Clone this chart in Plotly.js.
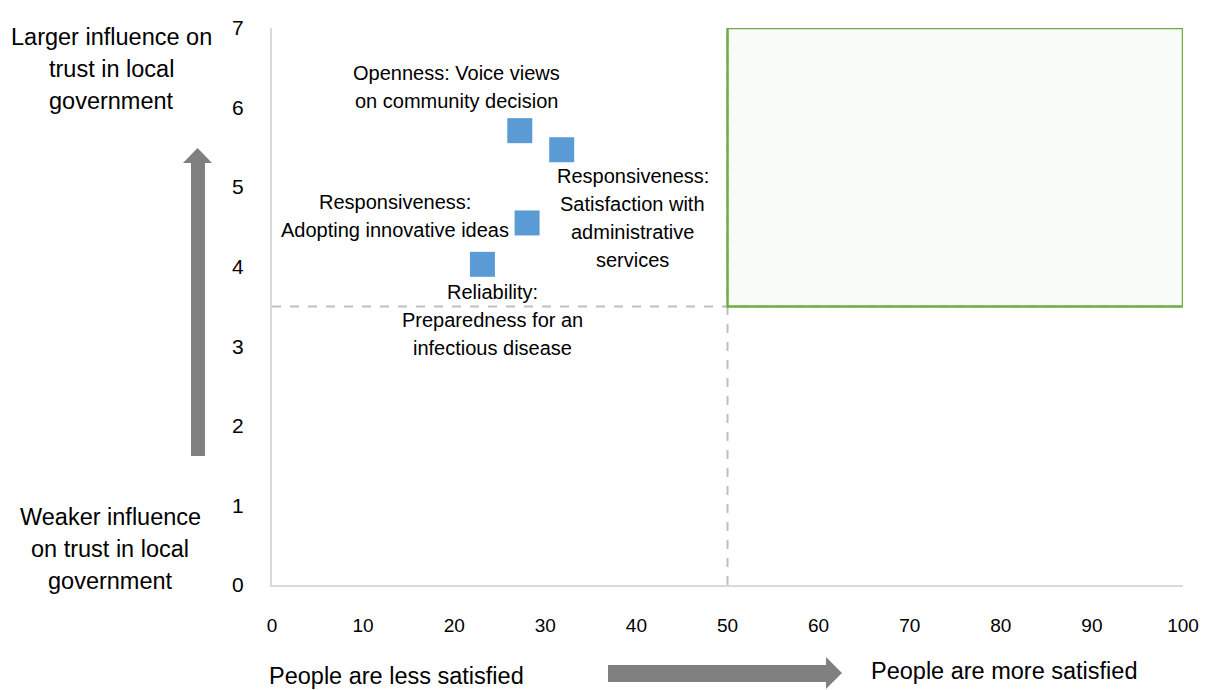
<!DOCTYPE html>
<html>
<head>
<meta charset="utf-8">
<script src="https://cdn.plot.ly/plotly-3.0.1.min.js"></script>
<style>
  html, body { margin: 0; padding: 0; background: #ffffff; }
  #chart { width: 1205px; height: 690px; }
</style>
</head>
<body>
<div id="chart"></div>
<script>
// Satisfaction (x, %) versus influence on trust in local government (y)
const satisfaction = [27.2, 31.8, 28.0, 23.1];
const influence = [5.71, 5.47, 4.55, 4.03];

// Driver labels: [lines, label centre x, label centre y]
const driverLabels = [
  [["Openness: Voice views", "on community decision"], 20.2, 6.26],
  [["Responsiveness:", "Satisfaction with", "administrative", "services"], 39.6, 4.61],
  [["Responsiveness:", "Adopting innovative ideas"], 13.5, 4.64],
  [["Reliability:", "Preparedness for an", "infectious disease"], 24.2, 3.33]
];

const xTicks = [0, 10, 20, 30, 40, 50, 60, 70, 80, 90, 100];
const yTicks = [0, 1, 2, 3, 4, 5, 6, 7];

// Quadrant thresholds
const satisfactionMid = 50;
const influenceMid = 3.5;

const W = 1205, H = 690;
const M = { l: 272, r: 22, t: 28, b: 105 };
const plotW = W - M.l - M.r, plotH = H - M.t - M.b;
const px = x => (x - M.l) / plotW;
const py = y => (H - M.b - y) / plotH;

const FONT = '"Liberation Sans", Arial, sans-serif';

const annotations = [];

// multi-line text block with fixed line spacing
function addBlock(lines, x, y, ref, font, spacing) {
  const n = lines.length;
  lines.forEach((t, i) => {
    annotations.push({
      text: t, x: x, y: y, xref: ref, yref: ref,
      xanchor: 'center', yanchor: 'middle', showarrow: false,
      yshift: -(i - (n - 1) / 2) * spacing,
      font: font
    });
  });
}

const labelFont = { family: FONT, size: 20, color: '#000000' };
driverLabels.forEach(d => addBlock(d[0], d[1], d[2], 'data', labelFont, 28));

const sideFont = { family: FONT, size: 23.5, color: '#000000' };
addBlock(["Larger influence on", "trust in local", "government"], px(111), py(69), 'paper', sideFont, 32);
addBlock(["Weaker influence", "on trust in local", "government"], px(110), py(549), 'paper', sideFont, 32);

const bottomFont = { family: FONT, size: 23.5, color: '#000000' };
addBlock(["People are less satisfied"], px(396), py(676), 'paper', bottomFont, 0);
addBlock(["People are more satisfied"], px(1004), py(671), 'paper', bottomFont, 0);

// arrow outlines in pixel space, converted to paper coordinates
function pathFrom(points) {
  return points.map((p, i) => (i ? 'L' : 'M') + px(p[0]).toFixed(5) + ',' + py(p[1]).toFixed(5)).join(' ') + ' Z';
}
const upArrow = pathFrom([[191, 456], [191, 163], [183, 163], [197.5, 148], [212, 163], [205, 163], [205, 456]]);
const rightArrow = pathFrom([[608, 665], [826, 665], [826, 657], [842, 673], [826, 689], [826, 682], [608, 682]]);

const shapes = [
  { type: 'line', xref: 'x', yref: 'y', x0: 0, x1: 100, y0: influenceMid, y1: influenceMid,
    line: { color: '#BFBFBF', width: 2, dash: 'dash' }, layer: 'below' },
  { type: 'line', xref: 'x', yref: 'y', x0: satisfactionMid, x1: satisfactionMid, y0: 0, y1: 7,
    line: { color: '#BFBFBF', width: 2, dash: 'dash' }, layer: 'below' },
  { type: 'rect', xref: 'x', yref: 'y', x0: satisfactionMid, x1: 100, y0: influenceMid, y1: 7,
    fillcolor: 'rgba(226,239,218,0.25)', line: { color: '#70AD47', width: 2.5 }, layer: 'below' },
  { type: 'path', xref: 'paper', yref: 'paper', path: upArrow, fillcolor: '#808080', line: { width: 0 } },
  { type: 'path', xref: 'paper', yref: 'paper', path: rightArrow, fillcolor: '#808080', line: { width: 0 } }
];

const trace = {
  type: 'scatter', mode: 'markers',
  x: satisfaction, y: influence,
  marker: { symbol: 'square', size: 25, color: '#5B9BD5', line: { width: 0 } },
  hoverinfo: 'x+y', showlegend: false
};

const layout = {
  width: W, height: H,
  margin: M,
  paper_bgcolor: '#ffffff', plot_bgcolor: '#ffffff',
  showlegend: false,
  xaxis: {
    range: [0, 100], tickvals: xTicks, ticktext: xTicks.map(String),
    showgrid: false, zeroline: false,
    showline: true, linecolor: '#D9D9D9', linewidth: 2,
    ticks: 'outside', ticklen: 22, tickcolor: 'rgba(0,0,0,0)',
    tickfont: { family: FONT, size: 19, color: '#000000' }
  },
  yaxis: {
    range: [0, 7], tickvals: yTicks, ticktext: yTicks.map(String),
    showgrid: false, zeroline: false,
    showline: true, linecolor: '#D9D9D9', linewidth: 2,
    ticks: 'outside', ticklen: 22, tickcolor: 'rgba(0,0,0,0)',
    tickfont: { family: FONT, size: 21, color: '#000000' }
  },
  shapes: shapes,
  annotations: annotations
};

Plotly.newPlot('chart', [trace], layout, { displayModeBar: false, staticPlot: true });
</script>
</body>
</html>
